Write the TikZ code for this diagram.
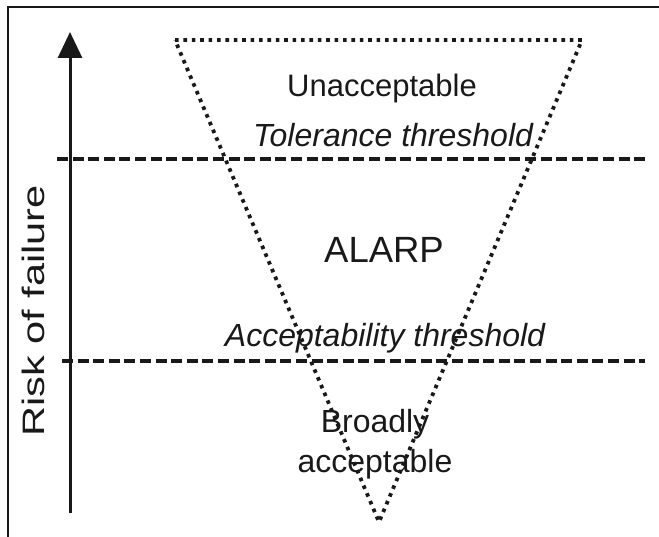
\documentclass[tikz,border=0pt]{standalone}
\usepackage{fontspec}
\setmainfont{Liberation Sans}
\usetikzlibrary{arrows.meta}
\definecolor{ink}{gray}{0.1}
\tikzset{
	dotline/.style={ink, line width=3.8pt, dash pattern=on 3.6pt off 4.8pt},
	dashline/.style={ink, line width=3.4pt, dash pattern=on 11pt off 4.6pt},
	zonetext/.style={ink, inner sep=0pt, anchor=base, font=\fontsize{31}{42}\selectfont},
	limittext/.style={ink, inner sep=0pt, anchor=base, font=\fontsize{32}{42}\selectfont\itshape}
}
\begin{document}
\begin{tikzpicture}[x=1pt, y=-1pt]
		\useasboundingbox (0,0) rectangle (659,537);
		% frame, cut at right and bottom
		\draw[ink, line width=2.2pt] (8,537) -- (8,7) -- (659,7);
		% axis
		\coordinate (axisbot) at (70,513);
		\coordinate (axistop) at (70,32);
		\draw[ink, line width=3pt, -{Triangle[width=24pt,length=26pt]}] (axisbot) -- (axistop);
		\node[ink, inner sep=0pt, anchor=base, rotate=90, font=\fontsize{31}{36}\selectfont]
			(risk) at (45,311) {\scalebox{1.34}[1]{Risk of failure}};
		% inverted triangle
		\coordinate (tl) at (175,40);
		\coordinate (tr) at (582,40);
		\coordinate (bot) at (379,522);
		\draw[dotline] (tl) -- (tr) -- (bot) -- cycle;
		% thresholds
		\coordinate (tolL) at (57,159);
		\coordinate (tolR) at (645,159);
		\coordinate (accL) at (62,361);
		\coordinate (accR) at (645,361);
		\draw[dashline] (tolL) -- (tolR);
		\draw[dashline] (accL) -- (accR);
		% zones
		\node[zonetext] (unacc) at (382,97) {Unacceptable};
		\node[limittext] (tol) at (393,147) {Tolerance threshold};
		\node[zonetext, font=\fontsize{36.5}{42}\selectfont] (alarp) at (384,263) {ALARP};
		\node[limittext] (acc) at (385,347) {Acceptability threshold};
		\node[zonetext, anchor=north, align=center, font=\fontsize{32}{40}\selectfont]
			(broad) at (375,409) {Broadly\\acceptable};
\end{tikzpicture}
\end{document}
